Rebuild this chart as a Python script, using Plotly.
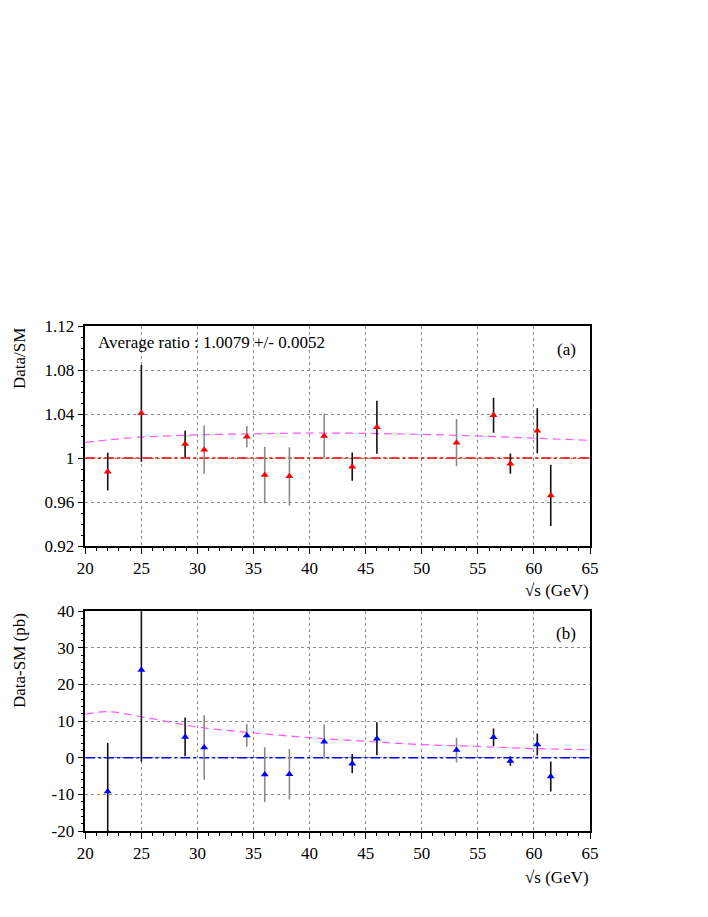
import plotly.graph_objects as go

# centre-of-mass energies (GeV)
energy = [22.0, 25.0, 28.9, 30.6, 34.4, 36.0, 38.2, 41.3, 43.8,
          46.0, 53.1, 56.4, 57.9, 60.3, 61.5]

# panel (a): Data/SM ratio
ratio = [0.9876, 1.0406, 1.0127, 1.0076, 1.0194, 0.9845, 0.9833, 1.0200, 0.9921,
         1.0279, 1.0139, 1.0388, 0.9948, 1.0248, 0.9660]
ratio_err = [0.0172, 0.0440, 0.0120, 0.0220, 0.0097, 0.0257, 0.0265, 0.0203, 0.0128,
             0.0241, 0.0215, 0.0159, 0.0092, 0.0205, 0.0279]

# panel (b): Data-SM (pb)
diff = [-9.2, 24.0, 5.7, 2.8, 6.1, -4.6, -4.5, 4.4, -1.6,
        5.2, 2.1, 5.6, -0.9, 3.6, -5.1]
diff_err = [13.2, 25.0, 5.3, 8.8, 3.1, 7.5, 6.9, 4.7, 2.6,
            4.5, 3.4, 2.4, 1.3, 3.0, 4.1]

# model curves (dashed magenta)
curve_x = [20, 22, 25, 30, 35, 40, 45, 50, 55, 60, 65]
curve_ratio = [1.0142, 1.0165, 1.0190, 1.0210, 1.0220, 1.0227, 1.0224, 1.0215, 1.0200, 1.0180, 1.0160]
curve_diff = [11.9, 12.6, 11.2, 8.4, 6.8, 5.5, 4.5, 3.6, 3.1, 2.5, 2.2]

# tick labels
ratio_ticks = [0.92, 0.96, 1.0, 1.04, 1.08, 1.12]
ratio_labels = ["0.92", "0.96", "1", "1.04", "1.08", "1.12"]
diff_ticks = [-20, -10, 0, 10, 20, 30, 40]
diff_labels = ["-20", "-10", "0", "10", "20", "30", "40"]

# energies whose error bars are drawn in grey
grey_points = {30.6, 34.4, 36.0, 38.2, 41.3, 53.1}

FONT = "Liberation Serif, Times New Roman, Times, serif"
MAGENTA = "#ff55ff"
W, H = 708, 917
PAGE_PAD = 8  # default body margin of the html page


def px(x):
    return (x - PAGE_PAD) / W


def py(y):
    return 1 - (y - PAGE_PAD) / H


fig = go.Figure()


def add_panel(yvals, yerr, curve_y, ref_y, colour, xa, ya):
    fig.add_trace(go.Scatter(
        x=curve_x, y=curve_y, mode="lines", line_shape="spline",
        line=dict(color=MAGENTA, width=1.2, dash="8px,5px"),
        xaxis=xa, yaxis=ya, hoverinfo="skip"))
    fig.add_trace(go.Scatter(
        x=[20, 65], y=[ref_y, ref_y], mode="lines",
        line=dict(color=colour, width=1.5, dash="10px,3px,3px,3px"),
        xaxis=xa, yaxis=ya, hoverinfo="skip"))
    for grey in (True, False):
        idx = [i for i, e in enumerate(energy) if (e in grey_points) == grey]
        fig.add_trace(go.Scatter(
            x=[energy[i] for i in idx], y=[yvals[i] for i in idx],
            mode="markers",
            marker=dict(symbol="triangle-up", size=7, color=colour),
            error_y=dict(type="data", array=[yerr[i] for i in idx],
                         width=0, thickness=1.6,
                         color="#8a8a8a" if grey else "#111111"),
            xaxis=xa, yaxis=ya))


add_panel(ratio, ratio_err, curve_ratio, 1.0, "#ff0000", "x", "y")
add_panel(diff, diff_err, curve_diff, 0.0, "#0000ff", "x2", "y2")

xdom = [px(85.3), px(590)]
axis_common = dict(
    automargin=False,
    showline=True, mirror=True, linecolor="black", linewidth=1.5,
    ticks="outside", ticklen=6, tickwidth=1, tickcolor="black",
    showgrid=True, gridcolor="#8c8c8c", gridwidth=1, griddash="dot",
    zeroline=False, tickfont=dict(family=FONT, size=17, color="black"),
)
xaxis_common = dict(axis_common, range=[20, 65], dtick=5, tick0=20,
                    minor=dict(dtick=1, ticklen=3, ticks="outside", tickcolor="black", showgrid=False))

fig.update_layout(
    template="none",
    width=W, height=H,
    margin=dict(l=0, r=0, t=0, b=0),
    paper_bgcolor="white", plot_bgcolor="white",
    showlegend=False,
    font=dict(family=FONT, color="black"),
    xaxis=dict(xaxis_common, domain=xdom, anchor="y"),
    yaxis=dict(axis_common, domain=[py(546), py(326)], range=[0.92, 1.12],
               tickvals=ratio_ticks, ticktext=ratio_labels, anchor="x",
               minor=dict(dtick=0.01, tick0=0.92, ticklen=3, ticks="outside",
                          tickcolor="black", showgrid=False)),
    xaxis2=dict(xaxis_common, domain=xdom, anchor="y2"),
    yaxis2=dict(axis_common, domain=[py(831), py(611.3)], range=[-20, 40],
                tickvals=diff_ticks, ticktext=diff_labels, anchor="x2",
                minor=dict(dtick=2, tick0=-20, ticklen=3, ticks="outside",
                           tickcolor="black", showgrid=False)),
)

ann_font = dict(family=FONT, size=17, color="black")
annotations = [
    dict(text="Average ratio : 1.0079 +/- 0.0052", x=px(96), y=py(343),
         xanchor="left", yanchor="middle"),
    dict(text="(a)", x=px(578), y=py(349), xanchor="right", yanchor="middle"),
    dict(text="(b)", x=px(578), y=py(633), xanchor="right", yanchor="middle"),
    dict(text="√s (GeV)", x=px(591), y=py(590), xanchor="right", yanchor="middle"),
    dict(text="√s (GeV)", x=px(591), y=py(877), xanchor="right", yanchor="middle"),
    dict(text="Data/SM", x=px(8), y=py(326), xanchor="left", yanchor="top",
         textangle=-90),
    dict(text="Data-SM (pb)", x=px(8), y=py(611), xanchor="left", yanchor="top",
         textangle=-90),
]
fig.update_layout(annotations=[dict(a, xref="paper", yref="paper", showarrow=False,
                                    font=ann_font) for a in annotations])

fig.write_html("out.html")
